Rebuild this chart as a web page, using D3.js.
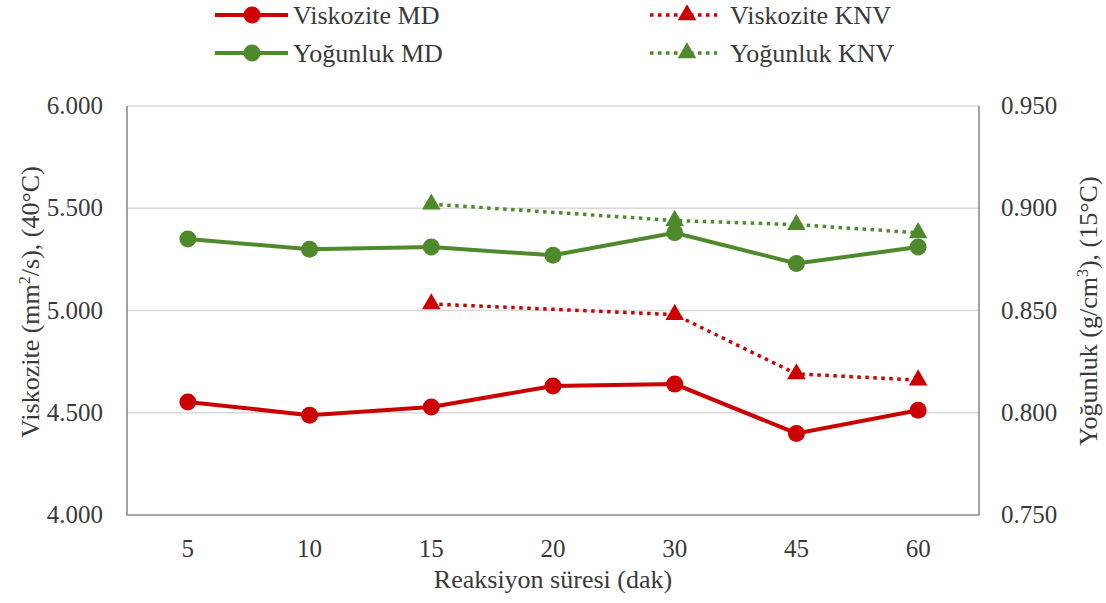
<!DOCTYPE html>
<html>
<head>
<meta charset="utf-8">
<style>
    body { margin: 0; background: white; }
    svg text { font-family: "Liberation Serif", "Times New Roman", Times, "DejaVu Serif", serif; }
</style>
</head>
<body>
<svg width="1106" height="603"></svg>
<script src="https://d3js.org/d3.v7.min.js"></script>
<script>
    // reaction times (categories)
    let times = ["5", "10", "15", "20", "30", "45", "60"];
    // viscosity, mm2/s at 40C (left axis)
    let viskoziteMD = [4.553, 4.488, 4.528, 4.631, 4.640, 4.399, 4.512];
    let viskoziteKNV = [null, null, 5.032, null, 4.980, 4.690, 4.660];
    // density, g/cm3 at 15C (right axis)
    let yogunlukMD = [0.885, 0.880, 0.881, 0.877, 0.888, 0.873, 0.881];
    let yogunlukKNV = [null, null, 0.902, null, 0.894, 0.892, 0.888];
    let leftTicks = [4.0, 4.5, 5.0, 5.5, 6.0];
    let rightTicks = [0.75, 0.80, 0.85, 0.90, 0.95];

    let red = "#cc0000";
    let green = "#4e8a2c";
    let textColor = "#3a3a3a";
    let serif = "'Liberation Serif', 'Times New Roman', Times, 'DejaVu Serif', serif";

    let svg = d3.select("svg").attr("font-family", serif);
    let plotLeft = 127, plotRight = 979, plotTop = 106, plotBottom = 515;

    let x = d3.scaleBand().domain(times).range([plotLeft, plotRight]);
    let yL = d3.scaleLinear().domain([4, 6]).range([plotBottom, plotTop]);
    let yR = d3.scaleLinear().domain([0.75, 0.95]).range([plotBottom, plotTop]);
    let cx = t => x(t) + x.bandwidth() / 2;

    // gridlines
    svg.append("g")
        .selectAll("line")
        .data(leftTicks.slice(1))
        .join("line")
        .attr("x1", plotLeft).attr("x2", plotRight)
        .attr("y1", d => yL(d)).attr("y2", d => yL(d))
        .attr("stroke", "#d9d9d9")
        .attr("stroke-width", 1.3);

    // frame: left, right, bottom
    svg.append("path")
        .attr("d", `M${plotLeft},${plotTop}V${plotBottom}H${plotRight}V${plotTop}`)
        .attr("fill", "none")
        .attr("stroke", "#8c8c8c")
        .attr("stroke-width", 1.6);

    // tick labels
    svg.append("g")
        .selectAll("text")
        .data(leftTicks)
        .join("text")
        .attr("x", 103)
        .attr("y", d => yL(d) + 8)
        .attr("text-anchor", "end")
        .attr("font-size", 25)
        .attr("fill", textColor)
        .text(d => d3.format(".3f")(d));

    svg.append("g")
        .selectAll("text")
        .data(rightTicks)
        .join("text")
        .attr("x", 1001)
        .attr("y", d => yR(d) + 8)
        .attr("font-size", 25)
        .attr("fill", textColor)
        .text(d => d3.format(".3f")(d));

    svg.append("g")
        .selectAll("text")
        .data(times)
        .join("text")
        .attr("x", d => cx(d))
        .attr("y", 557)
        .attr("text-anchor", "middle")
        .attr("font-size", 25)
        .attr("fill", textColor)
        .text(d => d);

    // axis titles
    svg.append("text")
        .attr("x", 553).attr("y", 588)
        .attr("text-anchor", "middle")
        .attr("font-size", 26)
        .attr("fill", textColor)
        .text("Reaksiyon süresi (dak)");

    let lt = svg.append("text")
        .attr("transform", "translate(39,302) rotate(-90)")
        .attr("text-anchor", "middle")
        .attr("font-size", 26)
        .attr("fill", textColor);
    lt.append("tspan").text("Viskozite (mm");
    lt.append("tspan").attr("font-size", 16).attr("dy", -9).text("2");
    lt.append("tspan").attr("dy", 9).text("/s), (40°C)");

    let rt = svg.append("text")
        .attr("transform", "translate(1097,311) rotate(-90)")
        .attr("text-anchor", "middle")
        .attr("font-size", 26)
        .attr("fill", textColor);
    rt.append("tspan").text("Yoğunluk (g/cm");
    rt.append("tspan").attr("font-size", 16).attr("dy", -9).text("3");
    rt.append("tspan").attr("dy", 9).text("), (15°C)");

    let series = [
        { name: "Viskozite MD", values: viskoziteMD, y: yL, color: red, dotted: false },
        { name: "Yoğunluk MD", values: yogunlukMD, y: yR, color: green, dotted: false },
        { name: "Viskozite KNV", values: viskoziteKNV, y: yL, color: red, dotted: true },
        { name: "Yoğunluk KNV", values: yogunlukKNV, y: yR, color: green, dotted: true }
    ];

    let tri = d3.symbol().type(d3.symbolTriangle).size(150);

    series.forEach(s => {
        let pts = times.map((t, i) => [t, s.values[i]]).filter(p => p[1] != null);
        let line = d3.line().x(p => cx(p[0])).y(p => s.y(p[1]));
        svg.append("path")
            .attr("d", line(pts))
            .attr("fill", "none")
            .attr("stroke", s.color)
            .attr("stroke-width", s.dotted ? 3.5 : 4)
            .attr("stroke-dasharray", s.dotted ? "3.5,4.5" : null);
        if (s.dotted) {
            svg.append("g").selectAll("path")
                .data(pts).join("path")
                .attr("d", tri)
                .attr("transform", p => `translate(${cx(p[0])},${s.y(p[1])})`)
                .attr("fill", s.color);
        } else {
            svg.append("g").selectAll("circle")
                .data(pts).join("circle")
                .attr("cx", p => cx(p[0]))
                .attr("cy", p => s.y(p[1]))
                .attr("r", 8.5)
                .attr("fill", s.color);
        }
    });

    // legend
    let legend = [
        { s: series[0], lx: 215, ly: 15, w: 73, tx: 293 },
        { s: series[1], lx: 215, ly: 53, w: 73, tx: 293 },
        { s: series[2], lx: 650, ly: 15, w: 67, tx: 730 },
        { s: series[3], lx: 650, ly: 53, w: 67, tx: 730 }
    ];
    legend.forEach(l => {
        let g = svg.append("g");
        g.append("line")
            .attr("x1", l.lx).attr("x2", l.lx + l.w)
            .attr("y1", l.ly).attr("y2", l.ly)
            .attr("stroke", l.s.color)
            .attr("stroke-width", l.s.dotted ? 3.5 : 4)
            .attr("stroke-dasharray", l.s.dotted ? "3.5,4.5" : null);
        if (l.s.dotted) {
            g.append("path").attr("d", tri)
                .attr("transform", `translate(${l.lx + 37},${l.ly})`)
                .attr("fill", l.s.color);
        } else {
            g.append("circle").attr("cx", l.lx + 37).attr("cy", l.ly).attr("r", 8.5)
                .attr("fill", l.s.color);
        }
        g.append("text")
            .attr("x", l.tx)
            .attr("y", l.ly + 9)
            .attr("font-size", 26)
            .attr("fill", textColor)
            .text(l.s.name);
    });
</script>
</body>
</html>
